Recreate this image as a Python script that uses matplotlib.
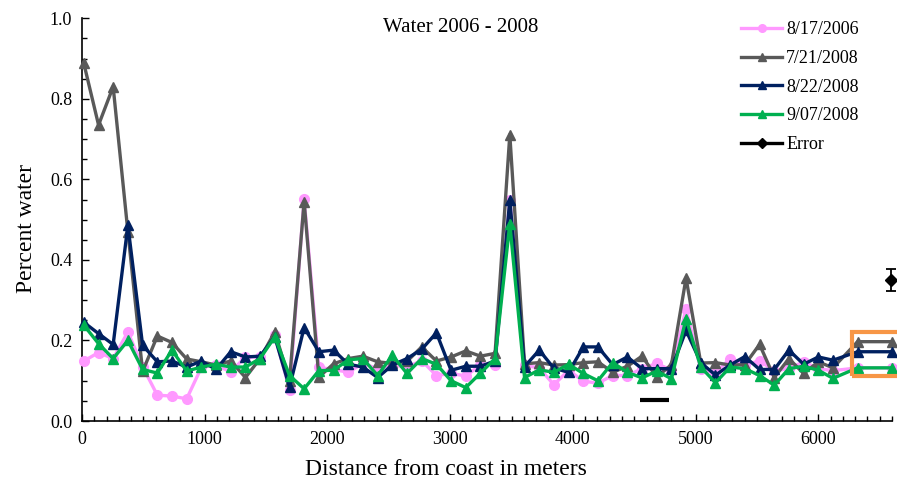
import numpy as np
import matplotlib
matplotlib.use("Agg")
import matplotlib.pyplot as plt
from matplotlib.lines import Line2D
from matplotlib.patches import Rectangle
from matplotlib.ticker import MultipleLocator, FormatStrFormatter

plt.rcParams['font.family'] = ['Liberation Serif', 'DejaVu Serif']

# distance along transect (m); last two points are the extended end values
distance = [15, 135, 254, 374, 494, 614, 733, 853, 973, 1092, 1212, 1332, 1451,
            1571, 1691, 1810, 1930, 2050, 2170, 2289, 2409, 2529, 2648, 2768,
            2888, 3007, 3127, 3247, 3366, 3486, 3606, 3726, 3845, 3965, 4085,
            4204, 4324, 4444, 4563, 4683, 4803, 4922, 5042, 5162, 5281, 5401,
            5521, 5641, 5760, 5880, 6000, 6119, 6320, 6600]

water_2006_08_17 = [0.149, 0.170, 0.155, 0.221, 0.135, 0.064, 0.062, 0.055, 0.133, 0.139,
                    0.122, 0.159, 0.159, 0.213, 0.078, 0.552, 0.133, 0.128, 0.121, 0.143,
                    0.130, 0.139, 0.134, 0.150, 0.113, 0.118, 0.112, 0.139, 0.140, 0.550,
                    0.138, 0.132, 0.090, 0.126, 0.099, 0.094, 0.113, 0.113, 0.130, 0.143,
                    0.126, 0.279, 0.128, 0.119, 0.155, 0.140, 0.149, 0.125, 0.130, 0.147,
                    0.130, 0.125, 0.132, 0.132]
water_2008_07_21 = [0.888, 0.735, 0.830, 0.470, 0.123, 0.211, 0.195, 0.154, 0.147, 0.139,
                    0.149, 0.108, 0.155, 0.221, 0.100, 0.545, 0.109, 0.142, 0.155, 0.161,
                    0.147, 0.143, 0.148, 0.184, 0.149, 0.159, 0.174, 0.161, 0.168, 0.711,
                    0.142, 0.145, 0.139, 0.140, 0.145, 0.147, 0.121, 0.136, 0.161, 0.109,
                    0.140, 0.355, 0.144, 0.145, 0.139, 0.140, 0.190, 0.108, 0.155, 0.118,
                    0.147, 0.132, 0.197, 0.197]
water_2008_08_22 = [0.245, 0.217, 0.190, 0.486, 0.188, 0.147, 0.149, 0.134, 0.149, 0.128,
                    0.172, 0.159, 0.161, 0.209, 0.084, 0.232, 0.172, 0.176, 0.141, 0.134,
                    0.108, 0.139, 0.155, 0.178, 0.219, 0.126, 0.136, 0.136, 0.149, 0.549,
                    0.135, 0.176, 0.131, 0.121, 0.184, 0.184, 0.140, 0.159, 0.130, 0.130,
                    0.130, 0.225, 0.145, 0.114, 0.139, 0.160, 0.128, 0.128, 0.176, 0.141,
                    0.159, 0.151, 0.172, 0.172]
water_2008_09_07 = [0.238, 0.192, 0.155, 0.200, 0.128, 0.119, 0.176, 0.124, 0.134, 0.141,
                    0.134, 0.134, 0.155, 0.209, 0.113, 0.080, 0.125, 0.126, 0.152, 0.155,
                    0.113, 0.163, 0.118, 0.155, 0.141, 0.100, 0.083, 0.119, 0.155, 0.490,
                    0.108, 0.127, 0.121, 0.141, 0.118, 0.100, 0.145, 0.121, 0.107, 0.124,
                    0.105, 0.254, 0.134, 0.095, 0.134, 0.130, 0.113, 0.089, 0.130, 0.136,
                    0.126, 0.106, 0.132, 0.132]

labels = ['8/17/2006', '7/21/2008', '8/22/2008', '9/07/2008']
colors = ['#ff99ff', '#595959', '#002060', '#00b050']
markers = ['o', '^', '^', '^']

error_x = 6590
error_y = 0.35
error_err = 0.027
scale_bar_x = [4550, 4785]
scale_bar_y = [0.053, 0.053]

fig = plt.figure(figsize=(8.97, 4.80), dpi=100)
ax = fig.add_axes([0.0914, 0.1229, 0.9030, 0.8390])

series = [water_2006_08_17, water_2008_07_21, water_2008_08_22, water_2008_09_07]
handles = []
for vals, lab, col, mk in zip(series, labels, colors, markers):
    ax.plot(distance, vals, color=col, lw=2.4, marker=mk, ms=7, mec=col, mfc=col,
            clip_on=False, zorder=3)
    handles.append(Line2D([], [], color=col, lw=2.4, marker=mk, ms=5.5, mec=col, mfc=col))

ax.errorbar([error_x], [error_y], yerr=[error_err], fmt='D', color='black', ms=6,
            elinewidth=1.3, capsize=3.5, capthick=1.3, clip_on=False, zorder=4)
handles.append(Line2D([], [], color='black', lw=2.4, marker='D', ms=5))

ax.plot(scale_bar_x, scale_bar_y, color='black', lw=3, solid_capstyle='butt')

ax.add_patch(Rectangle((6273, 0.111), 500, 0.110, fill=False, edgecolor='#f79646',
                       lw=3, clip_on=False, zorder=5))

ax.set_xlim(0, 6600)
ax.set_ylim(0, 1.0)
ax.spines['top'].set_visible(False)
ax.spines['right'].set_visible(False)
ax.spines['left'].set_linewidth(1.2)
ax.spines['bottom'].set_linewidth(1.2)

ax.xaxis.set_major_locator(MultipleLocator(1000))
ax.xaxis.set_minor_locator(MultipleLocator(100))
ax.yaxis.set_major_locator(MultipleLocator(0.2))
ax.yaxis.set_minor_locator(MultipleLocator(0.05))
ax.yaxis.set_major_formatter(FormatStrFormatter('%.1f'))
ax.tick_params(which='major', direction='in', length=5, width=1, labelsize=13, pad=7)
ax.tick_params(which='minor', direction='in', length=3.5, width=1)

ax.set_xlabel('Distance from coast in meters', fontsize=17, x=0.449, labelpad=8)
ax.set_ylabel('Percent water', fontsize=17, y=0.479, labelpad=9)
ax.text(0.467, 0.976, 'Water 2006 - 2008', transform=ax.transAxes, ha='center',
        va='center', fontsize=15)

fig.legend(handles, labels + ['Error'], loc='upper left', bbox_to_anchor=(0.826, 0.956),
           frameon=False, fontsize=13, handlelength=2.3, handletextpad=0.2,
           labelspacing=0.65, borderpad=0, borderaxespad=0, numpoints=1)

fig.savefig('out.png', dpi=100)
